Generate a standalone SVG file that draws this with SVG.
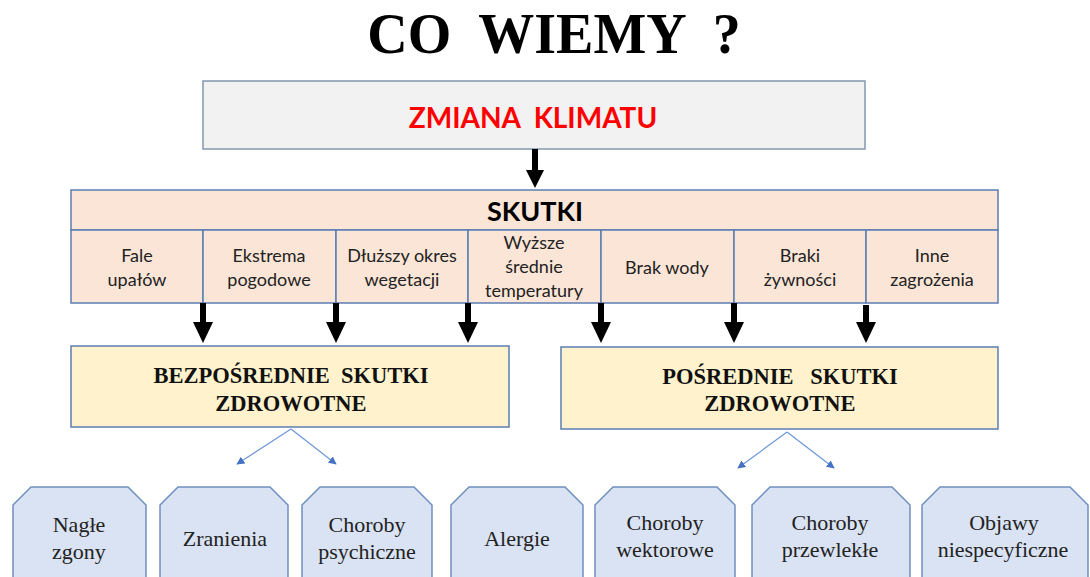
<svg xmlns="http://www.w3.org/2000/svg" width="1090" height="577" viewBox="0 0 1090 577">
<defs>
<style>
.title{font-family:"Liberation Serif",serif;font-weight:bold;font-size:56px;fill:#000}
.sans{font-family:Lato,"Liberation Sans",sans-serif;fill:#222}
.cell{font-size:18px}
.serifb{font-family:"Liberation Serif",serif;font-weight:bold;font-size:22.5px;fill:#111}
.serif{font-family:"Liberation Serif",serif;font-size:22px;fill:#222}
.peach{fill:#fbe5d6;stroke:#5b7db4;stroke-width:1.5}
.yellow{fill:#fff2cc;stroke:#5b7db4;stroke-width:1.5}
.leaf{fill:#dae3f3;stroke:#6f8fbf;stroke-width:1.5}
.blk{stroke:#000;stroke-width:6;fill:none}
.thin{stroke:#6f96d8;stroke-width:1.2;fill:none}
</style>
<marker id="ah" viewBox="0 0 10 10" refX="9" refY="5" markerWidth="8" markerHeight="8" markerUnits="userSpaceOnUse" orient="auto"><path d="M0,0 L10,5 L0,10 z" fill="#4472c4"/></marker>
</defs>
<rect width="1090" height="577" fill="#fff"/>
<text class="title" x="554" y="53" text-anchor="middle" xml:space="preserve">CO  WIEMY  ?</text>

<g id="zmiana">
<rect x="203" y="81" width="662" height="68" fill="#f2f2f2" stroke="#8497b0" stroke-width="1.5"/>
<text class="sans" x="533" y="128" text-anchor="middle" font-size="28" font-weight="bold" style="fill:#ff0000" xml:space="preserve">ZMIANA  KLIMATU</text>
</g>

<g id="skutki">
<rect class="peach" x="71" y="190" width="927" height="40"/>
<text class="sans" x="535" y="221" text-anchor="middle" font-size="27" font-weight="bold" style="fill:#000">SKUTKI</text>
</g>
<g id="c1"><rect class="peach" x="71" y="230" width="132" height="73"/>
<text class="sans cell" text-anchor="middle"><tspan x="137" y="262">Fale</tspan><tspan x="137" y="286">upałów</tspan></text></g>
<g id="c2"><rect class="peach" x="203" y="230" width="133" height="73"/>
<text class="sans cell" text-anchor="middle"><tspan x="269" y="262">Ekstrema</tspan><tspan x="269" y="286">pogodowe</tspan></text></g>
<g id="c3"><rect class="peach" x="336" y="230" width="132" height="73"/>
<text class="sans cell" text-anchor="middle"><tspan x="402" y="262">Dłuższy okres</tspan><tspan x="402" y="286">wegetacji</tspan></text></g>
<g id="c4"><rect class="peach" x="468" y="230" width="133" height="73"/>
<text class="sans cell" text-anchor="middle"><tspan x="534" y="249">Wyższe</tspan><tspan x="534" y="273">średnie</tspan><tspan x="534" y="297">temperatury</tspan></text></g>
<g id="c5"><rect class="peach" x="601" y="230" width="133" height="73"/>
<text class="sans cell" text-anchor="middle" x="667" y="274">Brak wody</text></g>
<g id="c6"><rect class="peach" x="734" y="230" width="132" height="73"/>
<text class="sans cell" text-anchor="middle"><tspan x="800" y="262">Braki</tspan><tspan x="800" y="286">żywności</tspan></text></g>
<g id="c7"><rect class="peach" x="866" y="230" width="132" height="73"/>
<text class="sans cell" text-anchor="middle"><tspan x="932" y="262">Inne</tspan><tspan x="932" y="286">zagrożenia</tspan></text></g>

<g id="bezp">
<rect class="yellow" x="71" y="346" width="438" height="81"/>
<text class="serifb" text-anchor="middle" xml:space="preserve"><tspan x="291" y="383">BEZPOŚREDNIE  SKUTKI</tspan><tspan x="291" y="411">ZDROWOTNE</tspan></text>
</g>
<g id="posr">
<rect class="yellow" x="561" y="347" width="437" height="82"/>
<text class="serifb" text-anchor="middle" xml:space="preserve"><tspan x="780" y="384">POŚREDNIE   SKUTKI</tspan><tspan x="780" y="411">ZDROWOTNE</tspan></text>
</g>

<g id="leaf1"><path class="leaf" d="M13,505 L31,487 L128,487 L146,505 L146,590 L13,590 Z"/>
<text class="serif" text-anchor="middle"><tspan x="79" y="532">Nagłe</tspan><tspan x="79" y="559">zgony</tspan></text></g>
<g id="leaf2"><path class="leaf" d="M160,505 L178,487 L270,487 L288,505 L288,590 L160,590 Z"/>
<text class="serif" text-anchor="middle" x="225" y="546">Zranienia</text></g>
<g id="leaf3"><path class="leaf" d="M302,505 L320,487 L414,487 L432,505 L432,590 L302,590 Z"/>
<text class="serif" text-anchor="middle"><tspan x="367" y="532">Choroby</tspan><tspan x="367" y="559">psychiczne</tspan></text></g>
<g id="leaf4"><path class="leaf" d="M451,505 L469,487 L565,487 L583,505 L583,590 L451,590 Z"/>
<text class="serif" text-anchor="middle" x="517" y="546">Alergie</text></g>
<g id="leaf5"><path class="leaf" d="M595,505 L613,487 L717,487 L735,505 L735,590 L595,590 Z"/>
<text class="serif" text-anchor="middle"><tspan x="665" y="530">Choroby</tspan><tspan x="665" y="557">wektorowe</tspan></text></g>
<g id="leaf6"><path class="leaf" d="M752,505 L770,487 L892,487 L910,505 L910,590 L752,590 Z"/>
<text class="serif" text-anchor="middle"><tspan x="830" y="530">Choroby</tspan><tspan x="830" y="557">przewlekłe</tspan></text></g>
<g id="leaf7"><path class="leaf" d="M922,505 L940,487 L1070,487 L1088,505 L1088,590 L922,590 Z"/>
<text class="serif" text-anchor="middle"><tspan x="1004" y="530">Objawy</tspan><tspan x="1003" y="557">niespecyficzne</tspan></text></g>

<g id="connectors">
<line class="blk" x1="535" y1="149" x2="535" y2="171"/>
<path d="M526,170 L544,170 L535,188 Z" fill="#000"/>
<line class="blk" x1="203" y1="303" x2="203" y2="323"/><path d="M193,322 L213,322 L203,343 Z" fill="#000"/>
<line class="blk" x1="336" y1="303" x2="336" y2="323"/><path d="M326,322 L346,322 L336,343 Z" fill="#000"/>
<line class="blk" x1="468" y1="303" x2="468" y2="323"/><path d="M458,322 L478,322 L468,343 Z" fill="#000"/>
<line class="blk" x1="601" y1="303" x2="601" y2="323"/><path d="M591,322 L611,322 L601,343 Z" fill="#000"/>
<line class="blk" x1="734" y1="303" x2="734" y2="323"/><path d="M724,322 L744,322 L734,343 Z" fill="#000"/>
<line class="blk" x1="866" y1="305" x2="866" y2="323"/><path d="M856,322 L876,322 L866,343 Z" fill="#000"/>
<line class="thin" x1="291" y1="429" x2="237" y2="464" marker-end="url(#ah)"/>
<line class="thin" x1="291" y1="429" x2="336" y2="464" marker-end="url(#ah)"/>
<line class="thin" x1="787" y1="432" x2="738" y2="468" marker-end="url(#ah)"/>
<line class="thin" x1="787" y1="432" x2="834" y2="468" marker-end="url(#ah)"/>
</g>
</svg>
